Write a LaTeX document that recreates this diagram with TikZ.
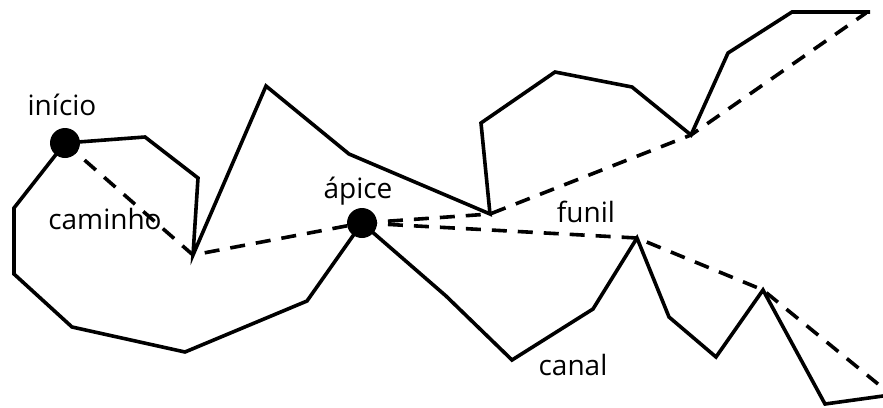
\documentclass[tikz,border=0pt]{standalone}
\usepackage{fontspec}
\setmainfont{Open Sans}
\begin{document}
\begin{tikzpicture}[x=1pt,y=-1pt,
  solidpath/.style={line width=3.6pt,line join=miter,line cap=butt},
  dashpath/.style={line width=3.6pt,dash pattern=on 15pt off 11pt},
  dot/.style={circle,fill=black,minimum size=30pt,inner sep=0pt},
  lbl/.style={font=\fontsize{28}{30}\selectfont,anchor=base,inner sep=0pt}]
\useasboundingbox (0,0) rectangle (883,407);
% key points
\coordinate (s) at (65,143);
\coordinate (ap) at (362,223);
\coordinate (v1) at (193,255);
\coordinate (v2) at (490,214);
\coordinate (v3) at (691,135);
\coordinate (tr) at (866,13);
\coordinate (p1) at (637,238);
\coordinate (p2) at (763,290);
\coordinate (br) at (878,384);
% dashed lines
\draw[dashpath] (s) -- (v1) -- (ap);
\draw[dashpath] (ap) -- (v2) -- (v3) -- (tr);
\draw[dashpath] (ap) -- (p1) -- (p2) -- (br);
% solid upper path
\draw[solidpath] (s) -- (145,137) -- (198,178) -- (v1) -- (266,86) -- (349,154) -- (v2)
  -- (481,123) -- (555,72) -- (632,87) -- (v3) -- (728,53) -- (792,12) -- (870,12);
% solid lower loop
\draw[solidpath] (s) -- (14,208) -- (14,274) -- (72,327) -- (185,352) -- (307,301) -- (ap);
% solid channel
\draw[solidpath] (ap) -- (446,296) -- (512,360) -- (593,309) -- (p1) -- (669,317)
  -- (716,357) -- (p2) -- (825,404) -- (883,396);
% dots
\node[dot] (start) at (s) {};
\node[dot] (apex) at (ap) {};
% labels
\node[lbl] (linicio) at (62,115) {início};
\node[lbl] (lcaminho) at (105,229) {caminho};
\node[lbl] (lapice) at (358,198) {ápice};
\node[lbl] (lfunil) at (586,222) {funil};
\node[lbl] (lcanal) at (573,375) {canal};
\end{tikzpicture}
\end{document}
